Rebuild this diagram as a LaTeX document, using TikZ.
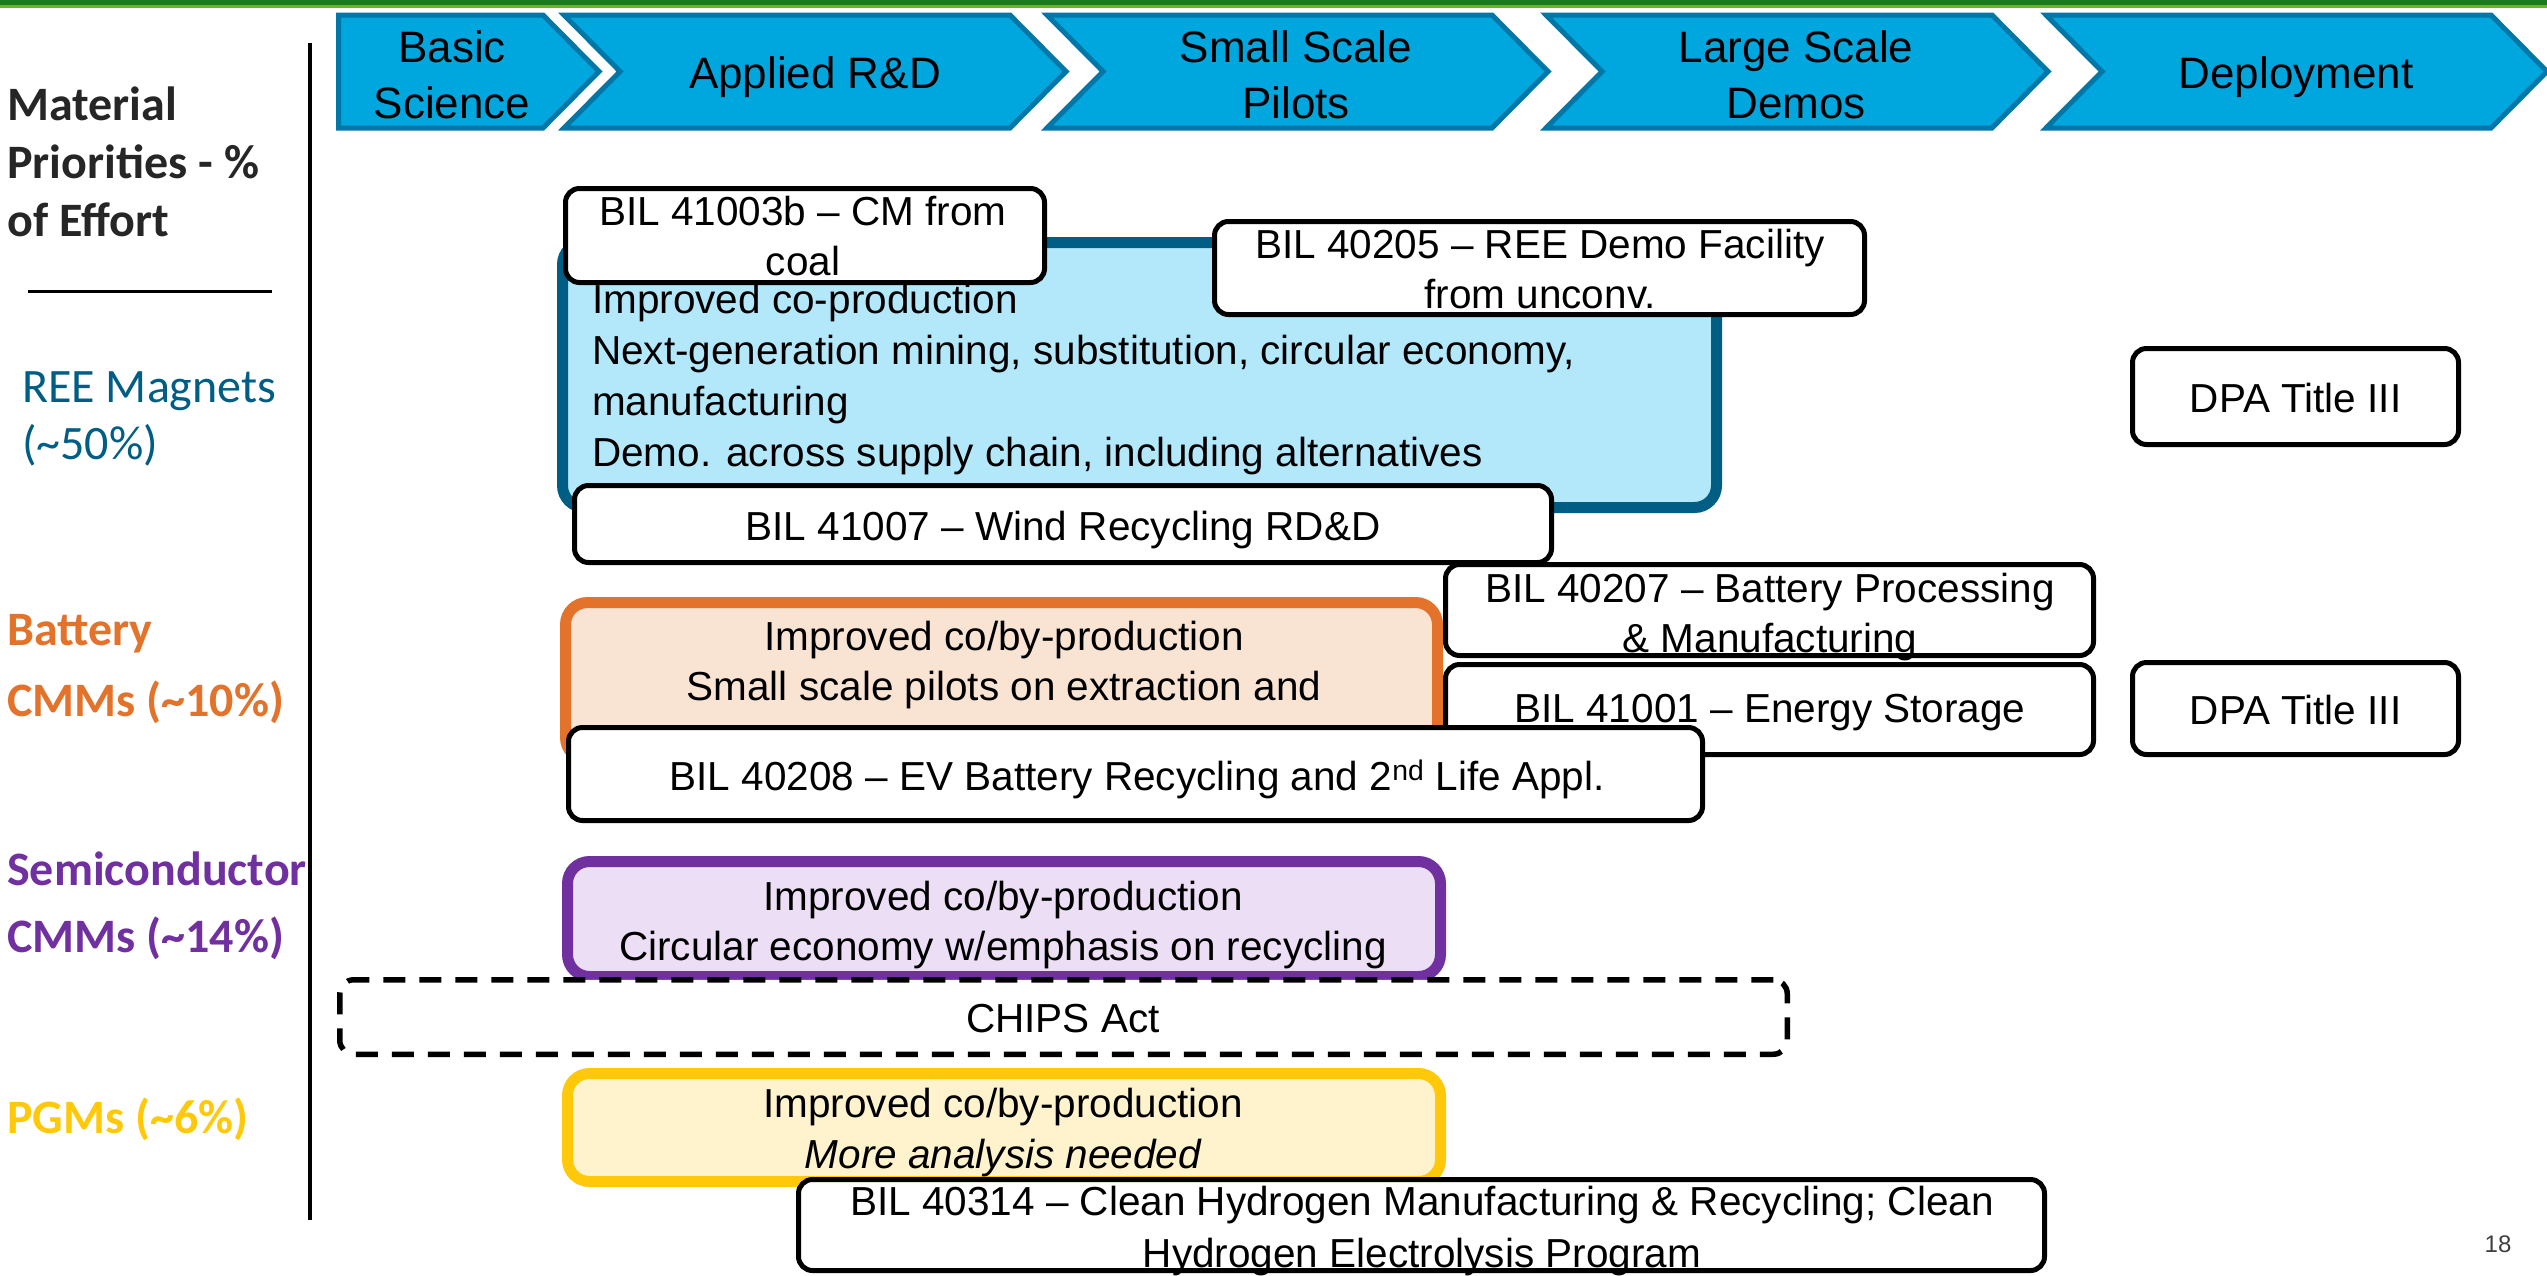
\documentclass[tikz,border=0pt]{standalone}
\usepackage{fontspec}
\setmainfont{Liberation Sans}
\newfontfamily\calfont{Carlito}
\definecolor{chevfill}{HTML}{00A6DE}
\definecolor{chevline}{HTML}{0077A6}
\definecolor{reefill}{HTML}{B3E8FB}
\definecolor{reeline}{HTML}{005E85}
\definecolor{orfill}{HTML}{F9E3D3}
\definecolor{orline}{HTML}{E3722A}
\definecolor{pufill}{HTML}{ECDEF4}
\definecolor{puline}{HTML}{7030A0}
\definecolor{yefill}{HTML}{FEF3CC}
\definecolor{yeline}{HTML}{FFC90A}
\definecolor{headtxt}{HTML}{262626}
\definecolor{greenA}{HTML}{1B7A1E}
\definecolor{greenB}{HTML}{6AB42D}
\begin{document}
\begin{tikzpicture}[x=1pt,y=-1pt,
  chev/.style={fill=chevfill,draw=chevline,line width=5pt,line join=miter},
  wbox/.style={draw=black,fill=white,line width=5pt,rounded corners=14pt,inner sep=0pt},
  cbox/.style={line width=11pt,rounded corners=22pt,inner sep=0pt},
  dbox/.style={draw=black,fill=white,line width=5.5pt,rounded corners=14pt,inner sep=0pt,dash pattern=on 22pt off 14pt},
  btxt/.style={font=\fontsize{40.5}{50}\selectfont,inner sep=0pt,anchor=base},
  ctxt/.style={font=\fontsize{44}{56}\selectfont,inner sep=0pt,anchor=base},
  ltxt/.style={font=\calfont\fontsize{48}{56}\selectfont,inner sep=0pt,anchor=base west},
  lbold/.style={ltxt,font=\calfont\bfseries\fontsize{48}{56}\selectfont}]
\useasboundingbox (0,0) rectangle (2547,1275);
\fill[white] (0,0) rectangle (2547,1275);
% top green band
\fill[greenA] (0,0) rectangle (2547,5);
\fill[greenB] (0,5) rectangle (2547,7.5);

% chevrons
\draw[chev] (338.5,15) -- (543,15) -- (599,71.5) -- (543,128) -- (338.5,128) -- cycle;
\draw[chev] (564,15) -- (1010,15) -- (1066,71.5) -- (1010,128) -- (564,128) -- (620,71.5) -- cycle;
\draw[chev] (1047,15) -- (1492,15) -- (1548,71.5) -- (1492,128) -- (1047,128) -- (1103,71.5) -- cycle;
\draw[chev] (1546,15) -- (1992,15) -- (2048,71.5) -- (1992,128) -- (1546,128) -- (1602,71.5) -- cycle;
\draw[chev] (2046,15) -- (2491,15) -- (2547,71.5) -- (2491,128) -- (2046,128) -- (2102,71.5) -- cycle;
\node[ctxt] (c1a) at (452,62) {Basic};
\node[ctxt] (c1b) at (452,118) {Science};
\node[ctxt] (c2) at (815,88) {Applied R\&D};
\node[ctxt] (c3a) at (1296,62) {Small Scale};
\node[ctxt] (c3b) at (1296,118) {Pilots};
\node[ctxt] (c4a) at (1796,62) {Large Scale};
\node[ctxt] (c4b) at (1796,118) {Demos};
\node[ctxt] (c5) at (2296,88) {Deployment};

% left column
\draw[line width=4pt] (310,43) -- (310,1220);
\node[lbold,text=headtxt] (h1) at (7,120) {Material};
\node[lbold,text=headtxt] (h2) at (7,178) {Priorities - \%};
\node[lbold,text=headtxt] (h3) at (7,236) {of Effort};
\draw[line width=3pt] (28,291) -- (272,291);
\node[ltxt,text=reeline] (l1a) at (22,402) {REE Magnets};
\node[ltxt,text=reeline] (l1b) at (22,459) {(\textasciitilde 50\%)};
\node[lbold,text=orline] (l2a) at (7,645) {Battery};
\node[lbold,text=orline] (l2b) at (7,716) {CMMs (\textasciitilde 10\%)};
\node[lbold,text=puline] (l3a) at (7,885) {Semiconductor};
\node[lbold,text=puline] (l3b) at (7,952) {CMMs (\textasciitilde 14\%)};
\node[lbold,text=yeline] (l4) at (7,1133) {PGMs (\textasciitilde 6\%)};

% REE row
\node[cbox,draw=reeline,fill=reefill,minimum width=1154pt,minimum height=265pt] (ree) at (1139.5,375) {};
\node[btxt,anchor=base west] (ree1) at (592,313) {Improved co-production};
\node[btxt,anchor=base west] (ree2) at (592,364) {Next-generation mining, substitution, circular economy,};
\node[btxt,anchor=base west] (ree3) at (592,415) {manufacturing};
\node[btxt,anchor=base west] (ree4) at (592,466) {Demo. across supply chain, including alternatives};
\node[wbox,minimum width=479pt,minimum height=94pt] (b41003) at (805,235.5) {};
\node[btxt] (b41003a) at (803,225) {BIL 41003b – CM from};
\node[btxt] (b41003b) at (803,275) {coal};
\node[wbox,minimum width=650pt,minimum height=93pt] (b40205) at (1539.5,268) {};
\node[btxt] (b40205a) at (1540,258) {BIL 40205 – REE Demo Facility};
\node[btxt] (b40205b) at (1540,308) {from unconv.};
\node[wbox,minimum width=977pt,minimum height=77pt] (b41007) at (1063,524) {};
\node[btxt] (b41007t) at (1063,540) {BIL 41007 – Wind Recycling RD\&D};
\node[wbox,minimum width=326pt,minimum height=96pt] (dpa1) at (2295.5,396.5) {};
\node[btxt] (dpa1t) at (2295.5,412) {DPA Title III};

% Battery row
\node[cbox,draw=orline,fill=orfill,minimum width=872pt,minimum height=157pt] (bat) at (1001.5,681) {};
\node[btxt] (bat1) at (1004,650) {Improved co/by-production};
\node[btxt] (bat2) at (1004,700) {Small scale pilots on extraction and};
\node[wbox,minimum width=648pt,minimum height=91pt] (b40207) at (1769.5,610) {};
\node[btxt] (b40207a) at (1770,602) {BIL 40207 – Battery Processing};
\node[btxt] (b40207b) at (1770,652) {\& Manufacturing};
\node[wbox,minimum width=648pt,minimum height=90pt] (b41001) at (1769.5,709.5) {};
\node[btxt] (b41001t) at (1770,722) {BIL 41001 – Energy Storage};
\node[wbox,minimum width=326pt,minimum height=92pt] (dpa2) at (2295.5,708.5) {};
\node[btxt] (dpa2t) at (2295.5,724) {DPA Title III};
\node[wbox,minimum width=1134pt,minimum height=93pt] (b40208) at (1135.5,774) {};
\node[btxt] (b40208t) at (1137,790) {BIL 40208 – EV Battery Recycling and 2\textsuperscript{nd} Life Appl.};

% Semiconductor row
\node[cbox,draw=puline,fill=pufill,minimum width=873pt,minimum height=115pt] (semi) at (1004,919) {};
\node[btxt] (semi1) at (1003,910) {Improved co/by-production};
\node[btxt] (semi2) at (1003,960) {Circular economy w/emphasis on recycling};
\node[dbox,minimum width=1447.5pt,minimum height=74.5pt] (chips) at (1063.5,1017) {};
\node[btxt] (chipst) at (1063,1032) {CHIPS Act};

% PGM row
\node[cbox,draw=yeline,fill=yefill,minimum width=873pt,minimum height=108pt] (pgm) at (1004,1127.5) {};
\node[btxt] (pgm1) at (1003,1117) {Improved co/by-production};
\node[btxt] (pgm2) at (1003,1168) {\itshape More analysis needed};
\node[wbox,minimum width=1246pt,minimum height=91pt] (b40314) at (1421.5,1225) {};
\node[btxt] (b40314a) at (1422,1215) {BIL 40314 – Clean Hydrogen Manufacturing \& Recycling; Clean};
\node[btxt] (b40314b) at (1422,1267) {Hydrogen Electrolysis Program};

% page number
\node[inner sep=0pt,anchor=base,font=\fontsize{24}{28}\selectfont,text=black!75] (pg) at (2498,1252) {18};
\end{tikzpicture}
\end{document}
